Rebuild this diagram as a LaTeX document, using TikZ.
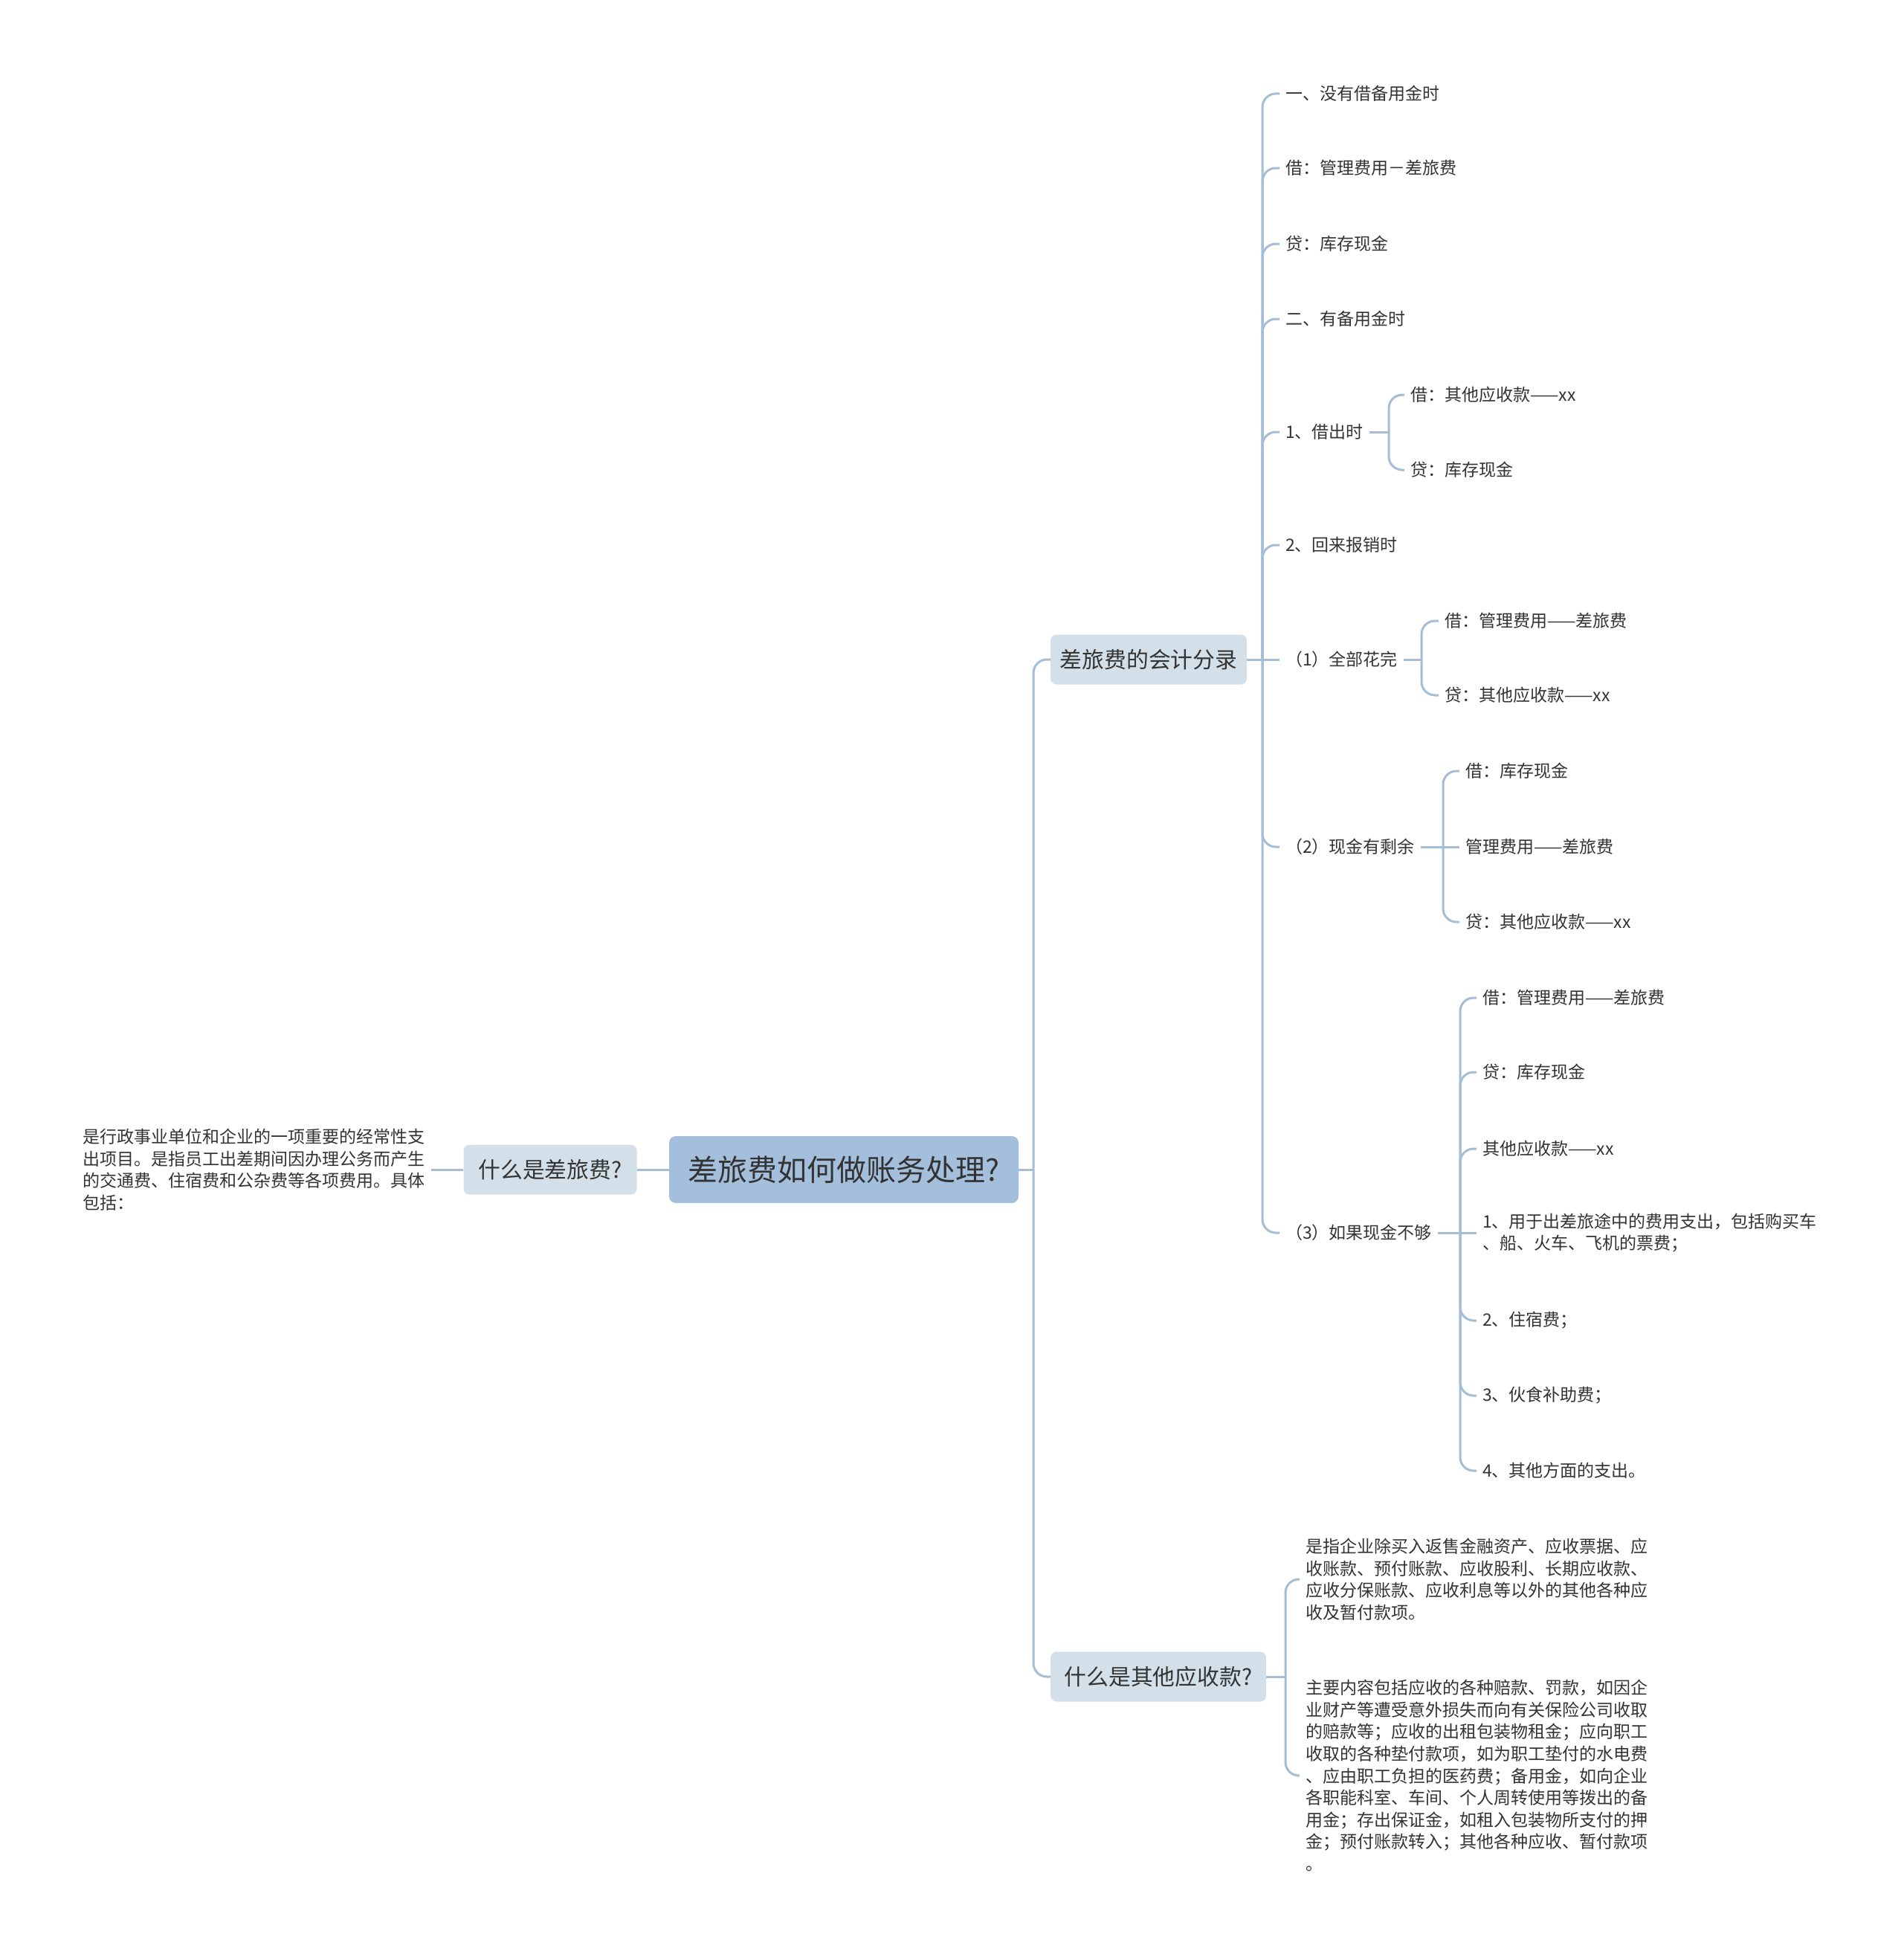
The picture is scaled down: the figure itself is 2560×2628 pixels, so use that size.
\documentclass[tikz,border=0pt]{standalone}
\usepackage{fontspec}
\setmainfont{Noto Sans CJK SC}
\definecolor{rootfill}{HTML}{A3BFDB}
\definecolor{bfill}{HTML}{D3E0EA}
\definecolor{conncol}{HTML}{A5BDD5}
\definecolor{txt}{HTML}{333333}
\begin{document}
\begin{tikzpicture}[x=1pt,y=-1pt,
  conn/.style={draw=conncol, line width=3pt, rounded corners=18pt},
  leaf/.style={anchor=west, inner xsep=8pt, inner ysep=4pt, font=\fontsize{23}{29.6}\selectfont, text=txt, align=left},
  branch/.style={fill=bfill, rounded corners=8pt, font=\fontsize{29.8}{34}\selectfont, text=txt, minimum height=67pt, inner xsep=0pt},
  rootnode/.style={fill=rootfill, rounded corners=9pt, font=\fontsize{40}{45}\selectfont, text=txt, minimum height=90pt, minimum width=470pt, inner xsep=0pt}
  ]
\useasboundingbox (0,0) rectangle (2560,2628);
\fill[white] (0,0) rectangle (2560,2628);

% central and main branches
\node[rootnode] (root) at (1135,1573) {差旅费如何做账务处理?};
\node[branch, minimum width=264pt] (b1) at (1545,887) {差旅费的会计分录};
\node[branch, minimum width=290pt] (b2) at (1558,2255) {什么是其他应收款?};
\node[branch, minimum width=233pt] (b0) at (740,1573) {什么是差旅费?};
\node[leaf, anchor=east] (t0) at (580,1573) {是行政事业单位和企业的一项重要的经常性支\\出项目。是指员工出差期间因办理公务而产生\\的交通费、住宿费和公杂费等各项费用。具体\\包括：};

\coordinate (s0) at (1390,1573);
\draw[conn] (root.east) -- (s0);
\draw[conn] (s0) |- (b1.west);
\draw[conn] (s0) |- (b2.west);
\draw[conn] (root.west) -- (b0.east);
\draw[conn] (b0.west) -- (t0.east);

% branch 1 children
\node[leaf] (a1) at (1721,126) {一、没有借备用金时};
\node[leaf] (a2) at (1721,226) {借：管理费用－差旅费};
\node[leaf] (a3) at (1721,328) {贷：库存现金};
\node[leaf] (a4) at (1721,429) {二、有备用金时};
\node[leaf] (a5) at (1721,581) {1、借出时};
\node[leaf] (a6) at (1721,733) {2、回来报销时};
\node[leaf] (a7) at (1721,887) {（1）全部花完};
\node[leaf] (a8) at (1721,1139) {（2）现金有剩余};
\node[leaf] (a9) at (1721,1658) {（3）如果现金不够};

\coordinate (sp1) at (1698,887);
\draw[conn] (b1.east) -- (sp1);
\foreach \n in {a1,a2,a3,a4,a5,a6,a8,a9} {\draw[conn] (sp1) |- (\n.west);}
\draw[conn] (sp1) -- (a7.west);

% 1、借出时
\node[leaf] (c1) at (1889,531) {借：其他应收款——xx};
\node[leaf] (c2) at (1889,632) {贷：库存现金};
\coordinate (sp5) at (1868,581);
\draw[conn] (a5.east) -- (sp5);
\draw[conn] (sp5) |- (c1.west);
\draw[conn] (sp5) |- (c2.west);

% (1) 全部花完
\node[leaf] (d1) at (1935,835) {借：管理费用——差旅费};
\node[leaf] (d2) at (1935,935) {贷：其他应收款——xx};
\coordinate (sp7) at (1912,887);
\draw[conn] (a7.east) -- (sp7);
\draw[conn] (sp7) |- (d1.west);
\draw[conn] (sp7) |- (d2.west);

% (2) 现金有剩余
\node[leaf] (e1) at (1963,1037) {借：库存现金};
\node[leaf] (e2) at (1963,1139) {管理费用——差旅费};
\node[leaf] (e3) at (1963,1240) {贷：其他应收款——xx};
\coordinate (sp8) at (1941,1139);
\draw[conn] (a8.east) -- (sp8);
\draw[conn] (sp8) |- (e1.west);
\draw[conn] (sp8) -- (e2.west);
\draw[conn] (sp8) |- (e3.west);

% (3) 如果现金不够
\node[leaf] (f1) at (1986,1342) {借：管理费用——差旅费};
\node[leaf] (f2) at (1986,1442) {贷：库存现金};
\node[leaf] (f3) at (1986,1545) {其他应收款——xx};
\node[leaf] (f4) at (1986,1658) {1、用于出差旅途中的费用支出，包括购买车\\、船、火车、飞机的票费；};
\node[leaf] (f5) at (1986,1776) {2、住宿费；};
\node[leaf] (f6) at (1986,1877) {3、伙食补助费；};
\node[leaf] (f7) at (1986,1978) {4、其他方面的支出。};
\coordinate (sp9) at (1964,1658);
\draw[conn] (a9.east) -- (sp9);
\foreach \n in {f1,f2,f3,f5,f6,f7} {\draw[conn] (sp9) |- (\n.west);}
\draw[conn] (sp9) -- (f4.west);

% branch 2 children
\node[leaf] (g1) at (1748,2124) {是指企业除买入返售金融资产、应收票据、应\\收账款、预付账款、应收股利、长期应收款、\\应收分保账款、应收利息等以外的其他各种应\\收及暂付款项。};
\node[leaf] (g2) at (1748,2388) {主要内容包括应收的各种赔款、罚款，如因企\\业财产等遭受意外损失而向有关保险公司收取\\的赔款等；应收的出租包装物租金；应向职工\\收取的各种垫付款项，如为职工垫付的水电费\\、应由职工负担的医药费；备用金，如向企业\\各职能科室、车间、个人周转使用等拨出的备\\用金；存出保证金，如租入包装物所支付的押\\金；预付账款转入；其他各种应收、暂付款项\\。};
\coordinate (sp2) at (1729,2255);
\draw[conn] (b2.east) -- (sp2);
\draw[conn] (sp2) |- (g1.west);
\draw[conn] (sp2) |- (g2.west);
\end{tikzpicture}
\end{document}
